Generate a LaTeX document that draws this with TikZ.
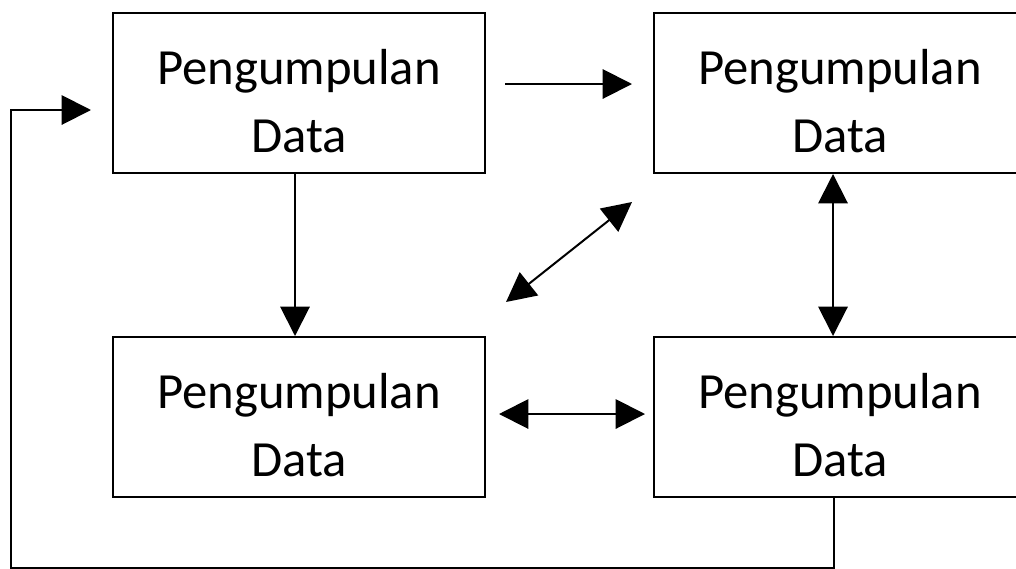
\documentclass[tikz,border=0pt]{standalone}
\usepackage{fontspec}
\setmainfont{Carlito}
\usetikzlibrary{arrows.meta,calc}

\tikzset{
  box/.style={draw, line width=1.5pt, minimum width=279pt, minimum height=120pt,
    inner sep=0pt,
    label={[align=center, font=\fontsize{38}{50.5}\selectfont, yshift=-6pt]center:Pengumpulan\\Data}},
  link/.style={line width=1.5pt},
  tip/.style={-{Triangle[length=22pt,width=22pt]}},
  tips/.style={{Triangle[length=22pt,width=22pt]}-{Triangle[length=22pt,width=22pt]}}
}

\begin{document}
\begin{tikzpicture}[x=0.75pt,y=-0.75pt]
  \useasboundingbox (0,0) rectangle (1016,568);
  \clip (0,0) rectangle (1016,568);

  % the four data-collection blocks
  \node[box] (tl) at (299,93)  {};
  \node[box] (tr) at (840,93)  {};
  \node[box] (bl) at (299,417) {};
  \node[box] (br) at (840,417) {};

  % forward arrows
  \draw[link,tip] ($(tl.east)+(19,-9)$) -- ($(tr.west)+(-21,-9)$);
  \draw[link,tip] ($(tl.south)+(-4,0)$) -- ($(bl.north)+(-4,0)$);

  % two-way links
  \draw[link,tips] ($(tl.south east)+(20,128)$) -- ($(tr.south west)+(-21,28)$);
  \draw[link,tips] ($(tr.south)+(-7,0)$) -- ($(br.north)+(-7,0)$);
  \draw[link,tips] ($(bl.east)+(13,-3)$) -- ($(br.west)+(-8,-3)$);

  % feedback loop back to the first block
  \draw[link,tip] ($(br.south)+(-6,0)$) -- ++(0,70) -| ($(tl.west)+(-101,17)$)
    -- ($(tl.west)+(-21,17)$);
\end{tikzpicture}
\end{document}
